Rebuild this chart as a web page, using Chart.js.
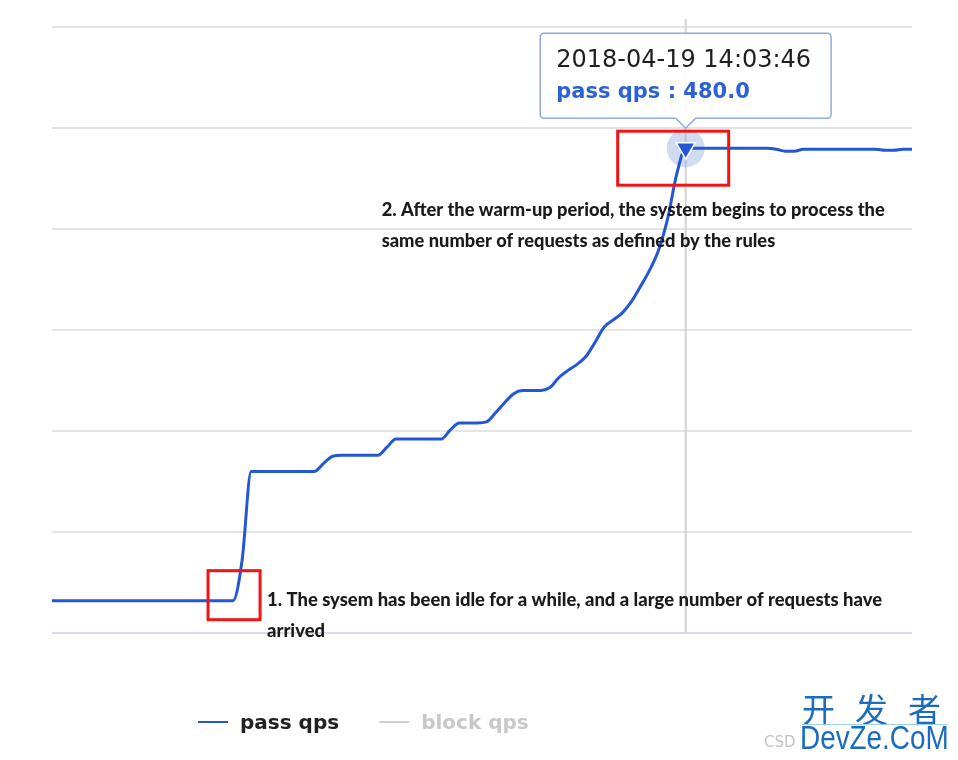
<!DOCTYPE html>
<html>
<head>
<meta charset="utf-8">
<title>pass qps</title>
<script src="https://cdn.jsdelivr.net/npm/chart.js@4.4.1/dist/chart.umd.min.js"></script>
<style>
  html, body { margin: 0; padding: 0; background: #fff; }
  #wrap { position: relative; width: 958px; height: 760px; overflow: hidden; }
  #chart { position: absolute; left: 0; top: 0; }
  #legend { position: absolute; left: 198px; top: 709px; display: flex; align-items: center;
            font: bold 20px "DejaVu Sans", sans-serif; line-height: 26px; }
  .item { display: flex; align-items: center; margin-right: 40px; }
  .swatch { width: 30px; height: 2px; margin-right: 12px; }
  .mark { position: absolute; white-space: nowrap; }
</style>
</head>
<body>
<div id="wrap">
  <canvas id="chart" width="958" height="760"></canvas>
  <div id="legend"></div>
  <div class="mark" style="left:764px;top:733px;font:15px 'DejaVu Sans';color:#c4c4c4;">CSD</div>
  <div class="mark" style="left:802px;top:684px;font:33px 'Noto Sans CJK SC';color:#1b6cbf;letter-spacing:20px;">开发者</div>
  <div class="mark" style="left:802px;top:724px;width:146px;height:1px;background:#9fd0f0;"></div>
  <div class="mark" style="left:800px;top:718px;font:34px 'Liberation Sans Narrow','Liberation Sans';color:#1b6cbf;transform:scaleX(0.82);transform-origin:left top;">DevZe.CoM</div>
</div>
<script>
// ---- data ----
const dateStr = '2018-04-19';
const startClock = '14:02:36';
const passQps = [
    32, 32, 32, 32, 32, 32, 32, 32, 32, 32, 32, 32, 32, 32, 32, 32, 32, 32, 32, 32, 32,
    72,
    160, 160, 160, 160, 160, 160, 160, 160,
    168, 175,
    176, 176, 176, 176, 176,
    184,
    192, 192, 192, 192, 192, 192,
    201,
    208, 208, 208,
    209, 218, 228, 237, 240, 240, 240, 243, 253, 260, 266, 274, 288, 303, 310, 317, 328, 343, 359, 379, 410, 454, 480,
    480, 480, 480, 480, 480, 480, 480, 480, 480,
    479, 477, 477, 479,
    479, 479, 479, 479, 479, 479, 479, 479,
    478, 478, 479, 479
];
const blockQps = [];   // series switched off in the legend
const seriesNames = ['pass qps', 'block qps'];
const yTicks = [0, 100, 200, 300, 400, 500, 600];
const activeIndex = 70;

const passColor = '#2457d6';
const blockColor = '#cfcfcf';

// one label per second
const toSec = s => s.split(':').reduce((a, v) => a * 60 + Number(v), 0);
const pad = n => String(n).padStart(2, '0');
const toClock = t => pad(Math.floor(t / 3600)) + ':' + pad(Math.floor(t / 60) % 60) + ':' + pad(t % 60);
const timeLabels = passQps.map((_, i) => toClock(toSec(startClock) + i));

// red boxes + notes, anchored to data points (offsets in px)
const boxes = [
    { index: 20, left: -25, right: 27, top: -30, bottom: 19 },
    { index: activeIndex, left: -68, right: 43, top: -17, bottom: 37 }
];
const notes = [
    { index: 20, dx: 34, dy: 0, width: 615,
      lines: ['1. The sysem has been idle for a while, and a large number of requests have', 'arrived'] },
    { index: activeIndex, dx: -304, dy: 62, width: 503,
      lines: ['2. After the warm-up period, the system begins to process the', 'same number of requests as defined by the rules'] }
];

/*==================== PLUGINS ====================*/
const crosshair = {
    id: 'crosshair',
    beforeDatasetsDraw(chart) {
        const { ctx, chartArea } = chart;
        const pt = chart.getDatasetMeta(0).data[activeIndex];
        ctx.save();
        ctx.strokeStyle = '#d2d2d2';
        ctx.lineWidth = 2;
        ctx.beginPath();
        ctx.moveTo(pt.x, chartArea.top - 8);
        ctx.lineTo(pt.x, chartArea.bottom);
        ctx.stroke();
        // halo round the hovered point
        ctx.fillStyle = 'rgba(140,165,220,0.4)';
        ctx.beginPath();
        ctx.arc(pt.x, pt.y, 19, 0, Math.PI * 2);
        ctx.fill();
        ctx.restore();
    }
};

const callouts = {
    id: 'callouts',
    afterDatasetsDraw(chart) {
        const { ctx } = chart;
        const pts = chart.getDatasetMeta(0).data;
        ctx.save();
        ctx.strokeStyle = '#f01414';
        ctx.lineWidth = 3;
        boxes.forEach(b => {
            const p = pts[b.index];
            ctx.strokeRect(p.x + b.left, p.y + b.top, b.right - b.left, b.bottom - b.top);
        });
        ctx.fillStyle = '#1a1a1a';
        ctx.font = '900 18px Lato';
        ctx.textBaseline = 'middle';
        notes.forEach(n => {
            const p = pts[n.index];
            const sx = n.width / ctx.measureText(n.lines[0]).width;
            n.lines.forEach((line, k) => {
                ctx.save();
                ctx.translate(p.x + n.dx, p.y + n.dy + k * 31);
                ctx.scale(sx, 1);
                ctx.fillText(line, 0, 0);
                ctx.restore();
            });
        });
        ctx.restore();
    }
};

/*==================== CHART ====================*/
const chart = new Chart(document.getElementById('chart').getContext('2d'), {
    type: 'line',
    data: {
        labels: timeLabels,
        datasets: [{
            label: seriesNames[0],
            data: passQps,
            borderColor: passColor,
            backgroundColor: passColor,
            borderWidth: 3,
            cubicInterpolationMode: 'monotone',
            pointStyle: 'triangle',
            rotation: 180,
            pointRadius: c => c.dataIndex === activeIndex ? 11 : 0,
            pointBackgroundColor: passColor,
            pointBorderColor: '#ffffff',
            pointBorderWidth: 1.5
        }, {
            label: seriesNames[1],
            data: blockQps,
            borderColor: blockColor,
            hidden: true
        }]
    },
    options: {
        responsive: false,
        animation: false,
        events: [],
        layout: { padding: { left: 52, right: 46, top: 27, bottom: 127 } },
        scales: {
            x: {
                ticks: { display: false },
                grid: { display: false, drawTicks: false },
                border: { display: false }
            },
            y: {
                min: yTicks[0],
                max: yTicks[yTicks.length - 1],
                afterBuildTicks: s => { s.ticks = yTicks.map(v => ({ value: v })); },
                ticks: { display: false },
                grid: {
                    drawTicks: false,
                    lineWidth: 2,
                    color: c => c.tick.value === 0 ? '#d6dde9' : '#e4e4e4'
                },
                border: { display: false }
            }
        },
        plugins: {
            legend: { display: false },
            tooltip: {
                enabled: true,
                xAlign: 'center',
                yAlign: 'bottom',
                caretSize: 10,
                caretPadding: 20,
                cornerRadius: 4,
                backgroundColor: 'rgba(255,255,255,0.93)',
                borderColor: '#8eabe6',
                borderWidth: 1.5,
                padding: { left: 16, right: 20, top: 13, bottom: 13 },
                displayColors: false,
                titleColor: '#1f1f1f',
                titleFont: { family: 'DejaVu Sans', size: 24, weight: 'normal' },
                titleMarginBottom: 5,
                bodyColor: '#2c62d6',
                bodyFont: { family: 'DejaVu Sans', size: 21, weight: 'bold' },
                callbacks: {
                    title: items => dateStr + ' ' + items[0].label,
                    label: item => item.dataset.label + ' : ' + item.parsed.y.toFixed(1)
                }
            }
        }
    },
    plugins: [crosshair, callouts]
});

const pt = chart.getDatasetMeta(0).data[activeIndex];
chart.tooltip.setActiveElements([{ datasetIndex: 0, index: activeIndex }], { x: pt.x, y: pt.y });
chart.update();

/*==================== LEGEND ====================*/
const legend = document.getElementById('legend');
chart.data.datasets.forEach(ds => {
    const item = document.createElement('div');
    item.className = 'item';
    item.style.color = ds.hidden ? '#c8c8c8' : '#222';
    const sw = document.createElement('span');
    sw.className = 'swatch';
    sw.style.background = ds.borderColor;
    const txt = document.createElement('span');
    txt.textContent = ds.label;
    item.appendChild(sw);
    item.appendChild(txt);
    legend.appendChild(item);
});
</script>
</body>
</html>
